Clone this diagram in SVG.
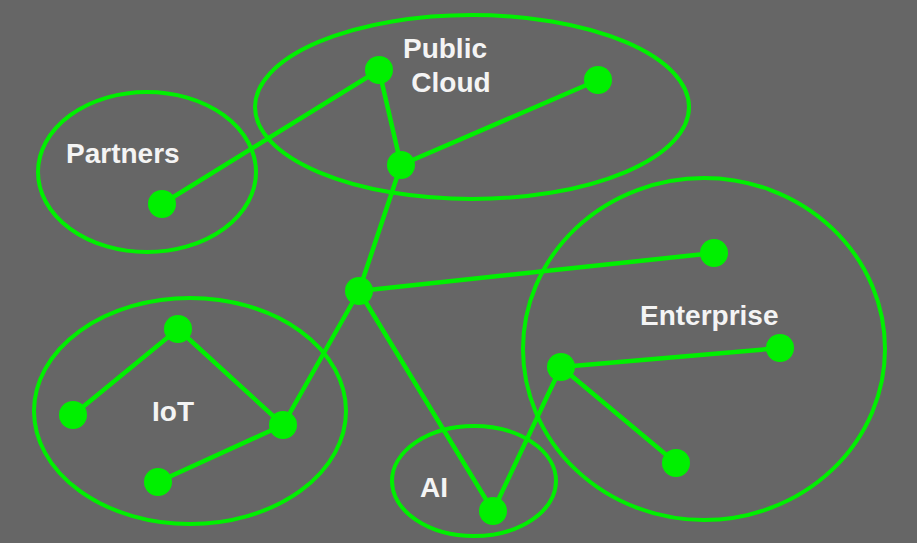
<svg xmlns="http://www.w3.org/2000/svg" width="917" height="543" viewBox="0 0 917 543">
<style>
.grp{fill:none;stroke:#00f000;stroke-width:4}
.e{stroke:#00f000;stroke-width:4.5;stroke-linecap:round}
.n{fill:#00f000}
.t{font-family:"Liberation Sans",Arial,sans-serif;font-weight:bold;font-size:28px;fill:#f4f4f4}
</style>
<rect width="917" height="543" fill="#666666"/>
<g id="groups">
<ellipse id="g-cloud" class="grp" cx="472" cy="107" rx="217" ry="92"/>
<ellipse id="g-partners" class="grp" cx="147" cy="172" rx="109" ry="80"/>
<ellipse id="g-iot" class="grp" cx="190" cy="411" rx="156" ry="113"/>
<ellipse id="g-ai" class="grp" cx="474" cy="481" rx="82" ry="55"/>
<ellipse id="g-enterprise" class="grp" cx="704" cy="349" rx="181" ry="171"/>
</g>
<g id="connectors">
<line class="e" x1="162" y1="204" x2="379" y2="70"/>
<line class="e" x1="379" y1="70" x2="401" y2="165"/>
<line class="e" x1="401" y1="165" x2="598" y2="80"/>
<line class="e" x1="401" y1="165" x2="359" y2="291"/>
<line class="e" x1="359" y1="291" x2="714" y2="253"/>
<line class="e" x1="359" y1="291" x2="283" y2="425"/>
<line class="e" x1="359" y1="291" x2="493" y2="511"/>
<line class="e" x1="493" y1="511" x2="561" y2="367"/>
<line class="e" x1="561" y1="367" x2="780" y2="348"/>
<line class="e" x1="561" y1="367" x2="676" y2="463"/>
<line class="e" x1="73" y1="415" x2="178" y2="329"/>
<line class="e" x1="178" y1="329" x2="283" y2="425"/>
<line class="e" x1="283" y1="425" x2="158" y2="482"/>
</g>
<g id="n-cloud1"><circle class="n" cx="379" cy="70" r="14"/></g>
<g id="n-cloud2"><circle class="n" cx="598" cy="80" r="14"/></g>
<g id="n-cloud3"><circle class="n" cx="401" cy="165" r="14"/></g>
<g id="n-partners"><circle class="n" cx="162" cy="204" r="14"/></g>
<g id="n-hub"><circle class="n" cx="359" cy="291" r="14"/></g>
<g id="n-ent1"><circle class="n" cx="714" cy="253" r="14"/></g>
<g id="n-ent2"><circle class="n" cx="780" cy="348" r="14"/></g>
<g id="n-ent3"><circle class="n" cx="561" cy="367" r="14"/></g>
<g id="n-ent4"><circle class="n" cx="676" cy="463" r="14"/></g>
<g id="n-iot1"><circle class="n" cx="178" cy="329" r="14"/></g>
<g id="n-iot2"><circle class="n" cx="73" cy="415" r="14"/></g>
<g id="n-iot3"><circle class="n" cx="283" cy="425" r="14"/></g>
<g id="n-iot4"><circle class="n" cx="158" cy="482" r="14"/></g>
<g id="n-ai"><circle class="n" cx="493" cy="511" r="14"/></g>
<g id="labels">
<text class="t" x="445" y="58" text-anchor="middle">Public</text>
<text class="t" x="451" y="91.5" text-anchor="middle">Cloud</text>
<text class="t" x="66" y="163">Partners</text>
<text class="t" x="152" y="420.5">IoT</text>
<text class="t" x="420" y="497">AI</text>
<text class="t" x="640" y="325">Enterprise</text>
</g>
</svg>
